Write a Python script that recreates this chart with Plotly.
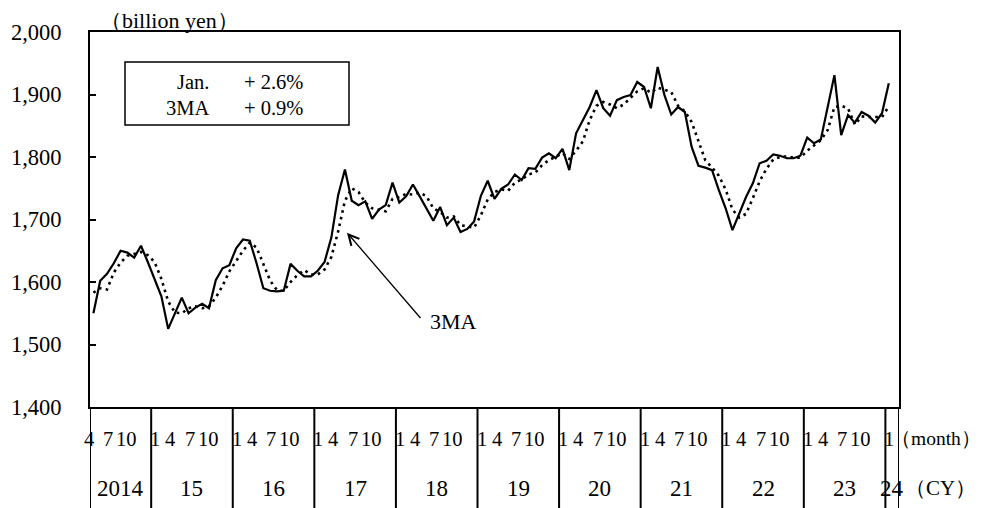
import plotly.graph_objects as go

# monthly values, Apr 2014 - Jan 2024 (billion yen)
sales = [1550, 1602, 1613, 1630, 1650, 1647, 1639, 1658, 1632,
         1606, 1577, 1525, 1550, 1575, 1550, 1559, 1565, 1558, 1603, 1622, 1627,
         1654, 1668, 1666, 1630, 1590, 1586, 1585, 1586, 1629, 1618, 1609, 1609,
         1618, 1632, 1671, 1739, 1780, 1730, 1723, 1729, 1701, 1716, 1723, 1759,
         1727, 1737, 1756, 1737, 1718, 1698, 1720, 1691, 1703, 1680, 1685, 1697,
         1738, 1762, 1733, 1749, 1756, 1772, 1763, 1782, 1781, 1799, 1806, 1798,
         1813, 1779, 1838, 1859, 1880, 1907, 1878, 1866, 1891, 1896, 1899, 1920,
         1912, 1878, 1944, 1899, 1868, 1880, 1872, 1816, 1786, 1783, 1779, 1747,
         1718, 1683, 1709, 1736, 1758, 1790, 1794, 1804, 1802, 1798, 1798, 1802,
         1831, 1822, 1828, 1880, 1931, 1835, 1867, 1855, 1872, 1866, 1855, 1870,
         1918]

# 3-month moving average (dotted line)
ma3 = [1583, 1590, 1588, 1615, 1631, 1642, 1645, 1648, 1643,
       1632, 1605, 1569, 1551, 1550, 1558, 1561, 1558, 1561, 1575, 1594, 1617,
       1634, 1650, 1663, 1655, 1629, 1602, 1587, 1586, 1600, 1611, 1619, 1612,
       1612, 1620, 1640, 1681, 1730, 1750, 1744, 1727, 1718, 1715, 1713, 1733,
       1736, 1741, 1740, 1743, 1737, 1718, 1712, 1703, 1705, 1691, 1689, 1687,
       1707, 1732, 1744, 1748, 1746, 1759, 1764, 1772, 1775, 1787, 1795, 1801,
       1806, 1797, 1810, 1825, 1859, 1882, 1888, 1884, 1878, 1884, 1895, 1905,
       1910, 1903, 1911, 1907, 1904, 1882, 1873, 1856, 1825, 1795, 1783, 1770,
       1748, 1716, 1703, 1709, 1734, 1761, 1781, 1796, 1800, 1801, 1799, 1799,
       1810, 1818, 1827, 1843, 1880, 1882, 1878, 1852, 1865, 1864, 1864, 1864,
       1881]

year_labels = ["2014", "15", "16", "17", "18", "19", "20", "21", "22", "23", "24"]
month_labels = ["1", "4", "7", "10"]
box_rows = [("Jan.", "+ 2.6%"), ("3MA", "+ 0.9%")]

FONT = "Liberation Serif, Times New Roman, serif"
n_slots = len(sales) + 1          # one empty slot after the last month
x = list(range(len(sales)))

fig = go.Figure()
fig.add_trace(go.Scatter(x=x, y=ma3, mode="lines", name="3MA",
                         line=dict(color="black", width=2.6, dash="2.6px,4.2px")))
fig.add_trace(go.Scatter(x=x, y=sales, mode="lines", name="value",
                         line=dict(color="black", width=2.2)))


def to_paper(pos):
    return (pos + 0.5) / n_slots


def text(xp, yp, s, size, xanchor="center"):
    return dict(x=xp, y=yp, xref="paper", yref="paper", text=s, showarrow=False,
                xanchor=xanchor, yanchor="middle", font=dict(size=size))


# year boundaries (data starts in April 2014)
starts = [-0.5] + [8.5 + 12 * k for k in range(len(year_labels) - 1)]
ends = starts[1:] + [n_slots - 0.5]
BOT = -101 / 375

anns = []
shapes = []
for k, (s, e) in enumerate(zip(starts, ends)):
    shapes.append(dict(type="line", xref="x", yref="paper", x0=s, x1=s, y0=0, y1=BOT,
                       line=dict(color="black", width=2)))
    anns.append(text(to_paper((s + e) / 2), -0.216, year_labels[k], 23))
    jan = s + 0.5 if k > 0 else -3
    offs = [0.09, 2.3, 5.16, 7.88]
    for m, o in zip(month_labels, offs):
        pos = jan + o
        if pos < -1 or pos > e:
            continue
        anns.append(text(to_paper(pos), -0.0853, m, 20.5))
shapes.append(dict(type="line", xref="x", yref="paper", x0=ends[-1], x1=ends[-1], y0=0, y1=BOT,
                   line=dict(color="black", width=2)))

anns.append(text(0.988, -0.0853, "（month）", 19.5, "left"))
anns.append(text(1.005, -0.216, "（CY）", 21, "left"))
anns.append(text(0.0977, 1.03, "（billion yen）", 22))

# summary box
shapes.append(dict(type="rect", xref="paper", yref="paper",
                   x0=(125 - 90) / 809, x1=(349 - 90) / 809,
                   y0=(407 - 125) / 375, y1=(407 - 62) / 375,
                   line=dict(color="black", width=1.5)))
for r, (lab, val) in enumerate(box_rows):
    yy = (407 - (82 + 26 * r)) / 375
    anns.append(text((211 - 90) / 809, yy, lab, 20.5, "right"))
    anns.append(text((242 - 90) / 809, yy, val, 20.5, "left"))

# arrow pointing to the moving average
anns.append(dict(x=37.3, y=1679, ax=48.3, ay=1540, xref="x", yref="y", axref="x", ayref="y",
                 text="", showarrow=True, arrowhead=5, arrowsize=1.6, arrowwidth=1.3,
                 arrowcolor="black"))
anns.append(dict(x=49.2, y=1537, xref="x", yref="y", text="3MA", xanchor="left",
                 yanchor="middle", showarrow=False, font=dict(size=22)))

# page body has an 8px margin, so the figure is drawn 8px smaller
fig.update_layout(
    width=976, height=500,
    margin=dict(l=82, r=85, t=24, b=101, autoexpand=False),
    paper_bgcolor="white", plot_bgcolor="white",
    font=dict(family=FONT, color="black"),
    showlegend=False,
    shapes=shapes, annotations=anns,
    xaxis=dict(range=[-0.5, n_slots - 0.5], showticklabels=False, ticks="",
               showgrid=False, zeroline=False, showline=True, linecolor="black",
               linewidth=2, mirror=True, automargin=False),
    yaxis=dict(range=[1400, 2000], dtick=100, tickformat=",", ticks="inside",
               ticklen=6, tickwidth=2, tickcolor="black", showgrid=False, zeroline=False,
               showline=True, linecolor="black", linewidth=2, mirror=True,
               tickfont=dict(size=22.5), ticklabelstandoff=22, automargin=False),
)

fig.write_html("out.html")
